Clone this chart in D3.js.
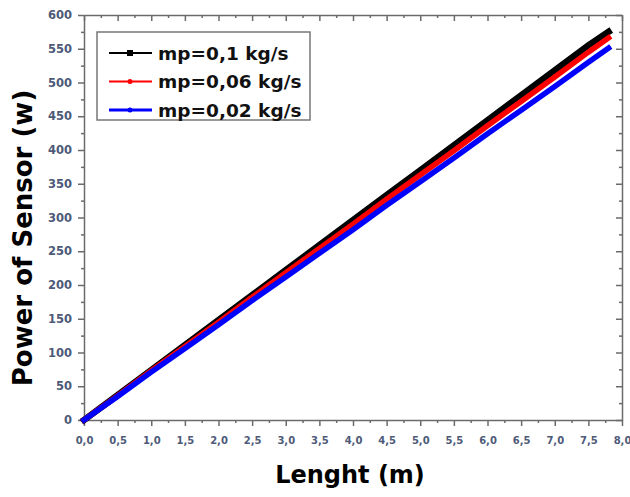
<!DOCTYPE html>
<html><head><meta charset="utf-8">
<script src="https://cdn.jsdelivr.net/npm/d3@7"></script>
<style>body{margin:0;background:#fff}svg{display:block}</style>
</head><body>
<svg id="c" width="630" height="497"></svg>
<script>
const lengths = [0,0.5,1,1.5,2,2.5,3,3.5,4,4.5,5,5.5,6,6.5,7,7.5,7.8];
const mp01  = [0,37,74,111,148,185,222,259,296,333,370,407,444,481,518,555,575];
const mp006 = [0,36,73,109,145,182,218,254,290,327,363,399,436,472,508,545,566];
const mp002 = [0,35,71,106,141,177,212,247,282,318,353,388,424,459,494,530,551];
const seriesNames = ["mp=0,1 kg/s","mp=0,06 kg/s","mp=0,02 kg/s"];
const seriesColors = ["#000000","#ff0000","#0000ff"];
const xTicks = [0,0.5,1,1.5,2,2.5,3,3.5,4,4.5,5,5.5,6,6.5,7,7.5,8];
const yTicks = [0,50,100,150,200,250,300,350,400,450,500,550,600];

const svg = d3.select("#c");
const L=84,R=622,T=15,B=420;
const x = d3.scaleLinear().domain([0,8]).range([L,R]);
const y = d3.scaleLinear().domain([0,600]).range([B,T]);
const fmt = d => d3.format(".1f")(d).replace(".",",");
const axisCol="#6b6b6b", labCol="#4d5a78";
const FONT="DejaVu Sans, Verdana, sans-serif";

const xMinor = d3.range(0.25,8,0.5);
const yMinor = d3.range(25,600,50);

function styleAxis(g, fs){
  g.selectAll("path,line").attr("stroke",axisCol).attr("stroke-width",1.5);
  g.selectAll("text").attr("fill",labCol).attr("font-family",FONT).attr("font-size",fs||10).attr("font-weight","bold");
}
// bottom
svg.append("g").attr("transform",`translate(0,${B})`)
  .call(d3.axisBottom(x).tickValues(xTicks).tickFormat(fmt).tickSize(6).tickSizeOuter(0).tickPadding(11)).call(g=>styleAxis(g,10));
svg.append("g").attr("transform",`translate(0,${B})`)
  .call(d3.axisBottom(x).tickValues(xMinor).tickFormat("").tickSize(3).tickSizeOuter(0)).call(g=>styleAxis(g)).select(".domain").remove();
// left
svg.append("g").attr("transform",`translate(${L},0)`)
  .call(d3.axisLeft(y).tickValues(yTicks).tickFormat(d3.format("d")).tickSize(6).tickSizeOuter(0).tickPadding(6)).call(g=>styleAxis(g,11.5));
svg.append("g").attr("transform",`translate(${L},0)`)
  .call(d3.axisLeft(y).tickValues(yMinor).tickFormat("").tickSize(3).tickSizeOuter(0)).call(g=>styleAxis(g)).select(".domain").remove();
// top (inward)
svg.append("g").attr("transform",`translate(0,${T})`)
  .call(d3.axisBottom(x).tickValues(xTicks).tickFormat("").tickSize(6).tickSizeOuter(0)).call(g=>styleAxis(g));
svg.append("g").attr("transform",`translate(0,${T})`)
  .call(d3.axisBottom(x).tickValues(xMinor).tickFormat("").tickSize(3).tickSizeOuter(0)).call(g=>styleAxis(g)).select(".domain").remove();
// right (inward)
svg.append("g").attr("transform",`translate(${R},0)`)
  .call(d3.axisLeft(y).tickValues(yTicks).tickFormat("").tickSize(6).tickSizeOuter(0)).call(g=>styleAxis(g));
svg.append("g").attr("transform",`translate(${R},0)`)
  .call(d3.axisLeft(y).tickValues(yMinor).tickFormat("").tickSize(3).tickSizeOuter(0)).call(g=>styleAxis(g)).select(".domain").remove();

// lines
const allSeries = [mp01, mp006, mp002];
const widths = [6.5,5.5,5.5];
const line = d3.line().x((d,i)=>x(lengths[i])).y(d=>y(d));
allSeries.forEach((s,k)=>{
  svg.append("path").datum(s).attr("d",line).attr("fill","none")
    .attr("stroke",seriesColors[k]).attr("stroke-width",widths[k]).attr("stroke-linecap","square");
});

// legend
const lg = svg.append("g");
lg.append("rect").attr("x",97).attr("y",32).attr("width",213).attr("height",88)
  .attr("fill","#fff").attr("stroke","#777").attr("stroke-width",1.5);
seriesNames.forEach((n,k)=>{
  const yy = 53 + k*28.5;
  lg.append("line").attr("x1",109).attr("x2",152).attr("y1",yy).attr("y2",yy)
    .attr("stroke",seriesColors[k]).attr("stroke-width",k===2?3:2);
  if(k===0) lg.append("rect").attr("x",127).attr("y",yy-3).attr("width",6).attr("height",6).attr("fill","#000");
  else lg.append("circle").attr("cx",130).attr("cy",yy).attr("r",2.5).attr("fill",seriesColors[k]);
  lg.append("text").attr("x",158).attr("y",yy+6.5).text(n)
    .attr("font-family",FONT).attr("font-weight","bold").attr("font-size",18.5).attr("fill","#111");
});

// axis titles
svg.append("text").attr("x",350).attr("y",483).attr("text-anchor","middle")
  .attr("font-family",FONT).attr("font-weight","bold").attr("font-size",24).attr("fill","#000").text("Lenght (m)");
svg.append("text").attr("transform","translate(32,238) rotate(-90)").attr("text-anchor","middle")
  .attr("font-family",FONT).attr("font-weight","bold").attr("font-size",26).attr("fill","#000").text("Power of Sensor (w)");
</script>
</body></html>
